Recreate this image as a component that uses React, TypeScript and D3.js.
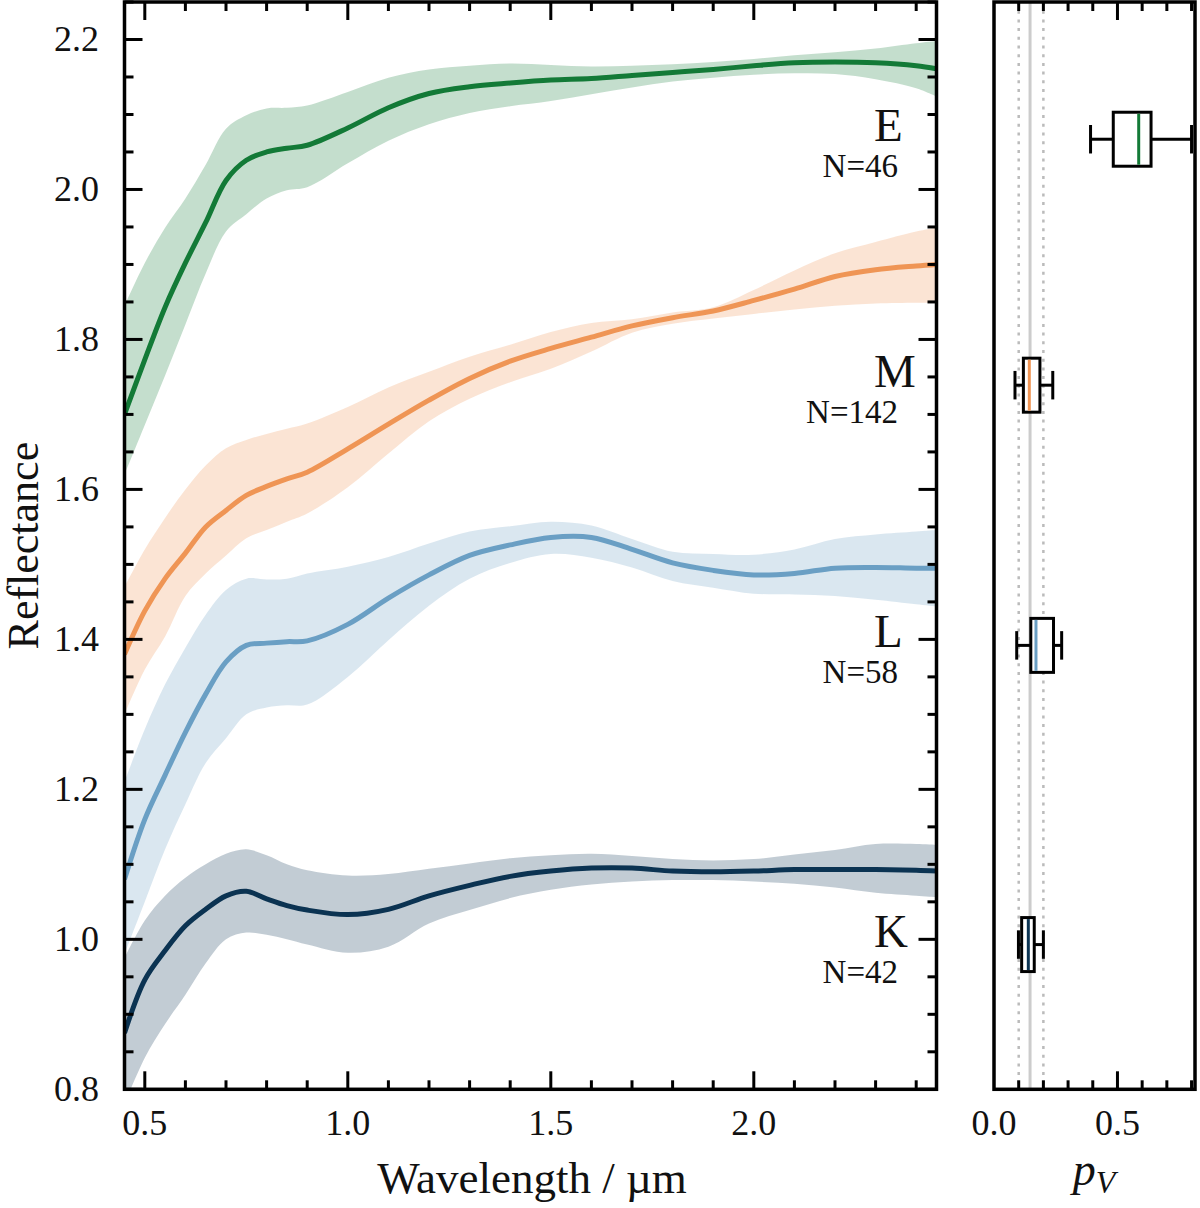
import React from 'react';
import * as d3 from 'd3';

// wavelength grid shared by every class spectrum
const wavelengths = [0.45, 0.5, 0.55, 0.6, 0.65, 0.7, 0.75, 0.8, 0.85, 0.9, 1.0, 1.1, 1.2, 1.3, 1.4, 1.5, 1.6, 1.7, 1.8, 1.9, 2.0, 2.1, 2.2, 2.3, 2.4, 2.45];

const eMean = [1.70, 1.773, 1.843, 1.902, 1.956, 2.012, 2.039, 2.050, 2.055, 2.059, 2.082, 2.109, 2.128, 2.137, 2.142, 2.146, 2.148, 2.152, 2.156, 2.160, 2.165, 2.169, 2.170, 2.169, 2.165, 2.161];
const eUpper = [1.845, 1.902, 1.949, 1.988, 2.033, 2.081, 2.099, 2.108, 2.109, 2.112, 2.130, 2.149, 2.160, 2.165, 2.168, 2.166, 2.164, 2.165, 2.167, 2.170, 2.174, 2.179, 2.183, 2.188, 2.195, 2.198];
const eLower = [1.62, 1.686, 1.752, 1.820, 1.888, 1.944, 1.967, 1.988, 1.999, 2.003, 2.035, 2.065, 2.087, 2.102, 2.111, 2.118, 2.127, 2.136, 2.144, 2.149, 2.153, 2.155, 2.154, 2.147, 2.135, 2.124];

const mMean = [1.38, 1.438, 1.481, 1.515, 1.550, 1.572, 1.592, 1.604, 1.614, 1.623, 1.654, 1.687, 1.719, 1.748, 1.771, 1.788, 1.803, 1.818, 1.829, 1.838, 1.852, 1.867, 1.884, 1.893, 1.898, 1.900];
const mUpper = [1.47, 1.52, 1.562, 1.600, 1.632, 1.655, 1.666, 1.674, 1.681, 1.688, 1.710, 1.736, 1.757, 1.777, 1.793, 1.810, 1.822, 1.827, 1.836, 1.843, 1.866, 1.892, 1.915, 1.930, 1.944, 1.949];
const mLower = [1.30, 1.36, 1.404, 1.458, 1.488, 1.512, 1.535, 1.546, 1.557, 1.568, 1.603, 1.648, 1.691, 1.721, 1.743, 1.761, 1.784, 1.809, 1.821, 1.828, 1.834, 1.840, 1.845, 1.848, 1.849, 1.849];

const lMean = [1.08, 1.16, 1.219, 1.276, 1.327, 1.370, 1.392, 1.395, 1.397, 1.398, 1.420, 1.455, 1.486, 1.512, 1.526, 1.536, 1.536, 1.520, 1.502, 1.492, 1.486, 1.488, 1.495, 1.496, 1.495, 1.495];
const lUpper = [1.21, 1.28, 1.34, 1.389, 1.433, 1.466, 1.481, 1.480, 1.481, 1.488, 1.497, 1.510, 1.528, 1.544, 1.551, 1.557, 1.552, 1.534, 1.517, 1.514, 1.513, 1.520, 1.534, 1.540, 1.544, 1.546];
const lLower = [0.98, 1.05, 1.12, 1.18, 1.235, 1.268, 1.300, 1.309, 1.312, 1.313, 1.350, 1.399, 1.445, 1.481, 1.502, 1.514, 1.509, 1.496, 1.478, 1.469, 1.461, 1.460, 1.458, 1.453, 1.447, 1.444];

const kMean = [0.875, 0.946, 0.985, 1.018, 1.040, 1.058, 1.064, 1.054, 1.045, 1.039, 1.033, 1.040, 1.058, 1.072, 1.084, 1.091, 1.095, 1.095, 1.091, 1.090, 1.091, 1.093, 1.093, 1.093, 1.092, 1.091];
const kUpper = [0.975, 1.025, 1.058, 1.082, 1.100, 1.114, 1.120, 1.112, 1.100, 1.092, 1.085, 1.087, 1.094, 1.101, 1.108, 1.112, 1.114, 1.111, 1.107, 1.105, 1.107, 1.113, 1.119, 1.127, 1.127, 1.126];
const kLower = [0.78, 0.842, 0.887, 0.926, 0.968, 1.000, 1.009, 1.006, 1.000, 0.993, 0.982, 0.990, 1.021, 1.039, 1.055, 1.066, 1.073, 1.077, 1.079, 1.079, 1.077, 1.074, 1.069, 1.062, 1.058, 1.056];

// class labels, sample sizes, colours
const classes = ['E', 'M', 'L', 'K'];
const counts = [46, 142, 58, 42];
const colors = ['#137a37', '#ef9555', '#6a9fc4', '#0b3352'];

// albedo boxplots: vertical position, whiskers, quartiles, median
const boxPos = [2.067, 1.739, 1.392, 0.993];
const whiskLo = [0.391, 0.085, 0.092, 0.099];
const q1 = [0.483, 0.119, 0.149, 0.112];
const medians = [0.586, 0.143, 0.170, 0.139];
const q3 = [0.636, 0.186, 0.241, 0.163];
const whiskHi = [0.800, 0.238, 0.274, 0.200];

const refDotted = [0.1, 0.2];
const refSolid = 0.146;

const yTicks = [0.8, 1.0, 1.2, 1.4, 1.6, 1.8, 2.0, 2.2];
const xTicks = [0.5, 1.0, 1.5, 2.0];
const pvTicks = [0.0, 0.5];

const FONT = '"Liberation Serif", "Times New Roman", serif';

const App: React.FC = () => {
    const width = 1200;
    const height = 1208;
    const top = 2;
    const bottom = 1089.3;
    const left = 124.5;
    const right = 936.5;
    const pLeft = 994;
    const pRight = 1195;

    const x = d3.scaleLinear().domain([0.45, 2.45]).range([left, right]);
    const y = d3.scaleLinear().domain([0.8, 2.25]).range([bottom, top]);
    const xp = d3.scaleLinear().domain([0, 0.814]).range([pLeft, pRight]);

    const series = [
        { mean: eMean, upper: eUpper, lower: eLower },
        { mean: mMean, upper: mUpper, lower: mLower },
        { mean: lMean, upper: lUpper, lower: lLower },
        { mean: kMean, upper: kUpper, lower: kLower },
    ];

    const curve = d3.curveCatmullRom.alpha(0.5);

    const line = d3.line<number>()
        .x((_, i) => x(wavelengths[i]))
        .y(d => y(d))
        .curve(curve);

    const area = (lo: number[], hi: number[]) => d3.area<number>()
        .x((_, i) => x(wavelengths[i]))
        .y0((_, i) => y(lo[i]))
        .y1((_, i) => y(hi[i]))
        .curve(curve)(wavelengths);

    const yMinor = d3.range(0.8, 2.2501, 0.05);
    const xMinor = d3.range(0.5, 2.4501, 0.1);
    const pMinor = d3.range(0.1, 0.8001, 0.1);

    const boxHalf = 0.036;
    const capHalf = 0.019;

    return (
        <svg width={width} height={height} style={{ position: 'absolute', left: 0, top: 0, background: '#fff' }}>
            <defs>
                <clipPath id="main-clip">
                    <rect x={left} y={top} width={right - left} height={bottom - top} />
                </clipPath>
            </defs>

            {/* spectra */}
            <g clipPath="url(#main-clip)">
                {series.map((s, i) => (
                    <path key={'a' + i} d={area(s.lower, s.upper) || ''} fill={colors[i]} fillOpacity={0.25} />
                ))}
                {series.map((s, i) => (
                    <path key={'l' + i} d={line(s.mean) || ''} fill="none" stroke={colors[i]} strokeWidth={5} />
                ))}
            </g>

            {/* class labels */}
            {classes.map((c, i) => (
                <g key={c} fontFamily={FONT} fill="#111">
                    <text x={874} y={y(boxPos[i]) + 2} fontSize={47}>{c}</text>
                    <text x={898} y={y(boxPos[i]) + 38} fontSize={33} textAnchor="end">N={counts[i]}</text>
                </g>
            ))}

            {/* main ticks */}
            <g stroke="#000" strokeWidth={3}>
                {yMinor.map(v => {
                    const major = yTicks.some(t => Math.abs(t - v) < 1e-6);
                    const len = major ? 18 : 9;
                    return (
                        <g key={'y' + v.toFixed(2)}>
                            <line x1={left} x2={left + len} y1={y(v)} y2={y(v)} />
                            <line x1={right} x2={right - len} y1={y(v)} y2={y(v)} />
                        </g>
                    );
                })}
                {xMinor.map(v => {
                    const major = xTicks.some(t => Math.abs(t - v) < 1e-6);
                    const len = major ? 18 : 9;
                    return (
                        <g key={'x' + v.toFixed(2)}>
                            <line x1={x(v)} x2={x(v)} y1={bottom} y2={bottom - len} />
                            <line x1={x(v)} x2={x(v)} y1={top} y2={top + len} />
                        </g>
                    );
                })}
            </g>
            <rect x={left} y={top} width={right - left} height={bottom - top} fill="none" stroke="#000" strokeWidth={3.5} />

            {/* tick labels */}
            <g fontFamily={FONT} fontSize={36} fill="#111">
                {yTicks.map(t => (
                    <text key={'yl' + t} x={99} y={y(t)} textAnchor="end" dominantBaseline="central">{t.toFixed(1)}</text>
                ))}
                {xTicks.map(t => (
                    <text key={'xl' + t} x={x(t)} y={1135} textAnchor="middle">{t.toFixed(1)}</text>
                ))}
                {pvTicks.map(t => (
                    <text key={'pl' + t} x={xp(t)} y={1135} textAnchor="middle">{t.toFixed(1)}</text>
                ))}
            </g>

            {/* axis titles */}
            <text x={532} y={1193} textAnchor="middle" fontFamily={FONT} fontSize={45} fill="#111">Wavelength / µm</text>
            <text transform={`translate(38, ${(top + bottom) / 2}) rotate(-90)`} textAnchor="middle" fontFamily={FONT} fontSize={44} fill="#111">Reflectance</text>
            <text x={1094} y={1185} textAnchor="middle" fontFamily={FONT} fontSize={46} fontStyle="italic" fill="#111">
                p<tspan fontSize={32} dy={8}>V</tspan>
            </text>

            {/* albedo panel */}
            {refDotted.map(v => (
                <line key={'d' + v} x1={xp(v)} x2={xp(v)} y1={top} y2={bottom} stroke="#bbb" strokeWidth={2.5} strokeDasharray="3 5.7" />
            ))}
            <line x1={xp(refSolid)} x2={xp(refSolid)} y1={top} y2={bottom} stroke="#ccc" strokeWidth={3} />

            {classes.map((c, i) => {
                const yc = y(boxPos[i]);
                const yb = y(boxPos[i] + boxHalf);
                const ye = y(boxPos[i] - boxHalf);
                const cy0 = y(boxPos[i] + capHalf);
                const cy1 = y(boxPos[i] - capHalf);
                return (
                    <g key={'b' + c} stroke="#000" strokeWidth={3}>
                        <line x1={xp(whiskLo[i])} x2={xp(q1[i])} y1={yc} y2={yc} />
                        <line x1={xp(q3[i])} x2={xp(whiskHi[i])} y1={yc} y2={yc} />
                        <line x1={xp(whiskLo[i])} x2={xp(whiskLo[i])} y1={cy0} y2={cy1} />
                        <line x1={xp(whiskHi[i])} x2={xp(whiskHi[i])} y1={cy0} y2={cy1} />
                        <rect x={xp(q1[i])} y={yb} width={xp(q3[i]) - xp(q1[i])} height={ye - yb} fill="#fff" />
                        <line x1={xp(medians[i])} x2={xp(medians[i])} y1={yb + 1.5} y2={ye - 1.5} stroke={colors[i]} />
                    </g>
                );
            })}

            <g stroke="#000" strokeWidth={3}>
                {pMinor.map(v => {
                    const major = pvTicks.some(t => Math.abs(t - v) < 1e-6);
                    const len = major ? 18 : 9;
                    return (
                        <g key={'p' + v.toFixed(2)}>
                            <line x1={xp(v)} x2={xp(v)} y1={bottom} y2={bottom - len} />
                            <line x1={xp(v)} x2={xp(v)} y1={top} y2={top + len} />
                        </g>
                    );
                })}
            </g>
            <rect x={pLeft} y={top} width={pRight - pLeft} height={bottom - top} fill="none" stroke="#000" strokeWidth={3.5} />
        </svg>
    );
};

export default App;
